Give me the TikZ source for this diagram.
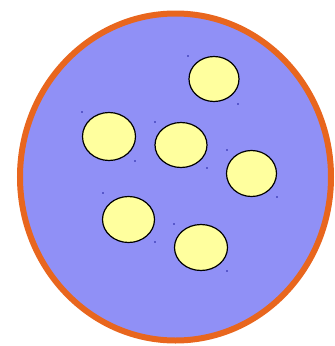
\documentclass[tikz,border=0pt]{standalone}
\definecolor{blobblue}{HTML}{9090F6}
\definecolor{blobyellow}{HTML}{FFFF9E}
\definecolor{handleblue}{HTML}{2020A0}
\definecolor{cellorange}{HTML}{E8661E}
\begin{document}
\begin{tikzpicture}[x=1pt,y=-1pt,
  cell/.style={draw=cellorange,line width=6pt,fill=blobblue},
  blob/.style={draw=black,line width=1.2pt,fill=blobyellow},
  handle/.style={fill=handleblue}]
\useasboundingbox (0,0) rectangle (335,346);
\fill[white] (0,0) rectangle (335,346);
\draw[cell] (175.5,177) ellipse [x radius=155.5, y radius=163.5];
\draw[blob] (214,79) ellipse [x radius=25, y radius=22.5];
\draw[blob] (109,136.5) ellipse [x radius=26.5, y radius=24];
\draw[blob] (181,145) ellipse [x radius=26, y radius=22.5];
\draw[blob] (251.5,173.5) ellipse [x radius=25, y radius=23];
\draw[blob] (128.5,219.5) ellipse [x radius=26, y radius=23];
\draw[blob] (201,247.5) ellipse [x radius=26.5, y radius=23];
\foreach \p in {(188,56),(238,104),(82,112),(135,161),(155,122),(207,168),(227,150),(277,197),(103,193),(155,242),(174,224),(227,271)}
  \fill[handle] \p circle (0.9);
\end{tikzpicture}
\end{document}
